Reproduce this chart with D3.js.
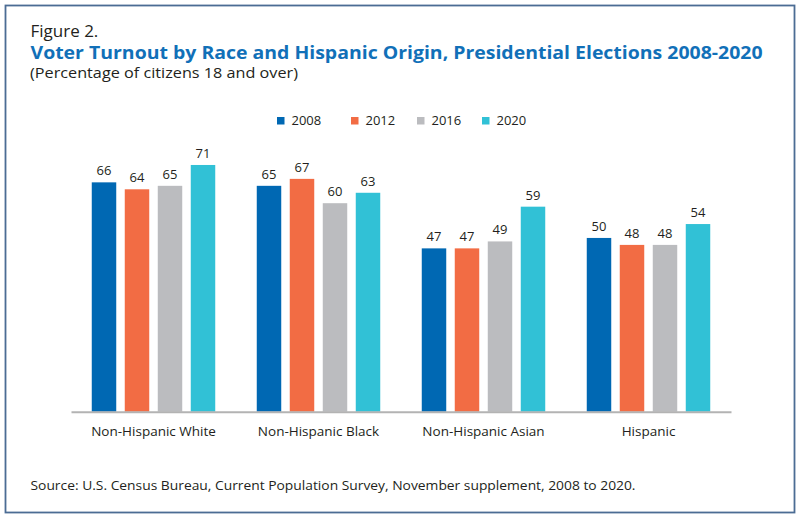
<!DOCTYPE html>
<html>
<head>
<meta charset="utf-8">
<script src="https://cdn.jsdelivr.net/npm/d3@7"></script>
<style>
  html, body { margin: 0; padding: 0; background: #fff; }
  svg { display: block; }
  text { font-family: "Open Sans", "Noto Sans", sans-serif; }
</style>
</head>
<body>
<svg id="chart" width="800" height="518"></svg>
<script>
// ---- Data ----
const categories = ["Non-Hispanic White", "Non-Hispanic Black", "Non-Hispanic Asian", "Hispanic"];
const years = ["2008", "2012", "2016", "2020"];
const values2008 = [66, 65, 47, 50];
const values2012 = [64, 67, 47, 48];
const values2016 = [65, 60, 49, 48];
const values2020 = [71, 63, 59, 54];
const seriesValues = [values2008, values2012, values2016, values2020];
const colors = ["#0068b3", "#f26c44", "#bbbcbf", "#31c1d6"];

const figureLabel = "Figure 2.";
const titleText = "Voter Turnout by Race and Hispanic Origin, Presidential Elections 2008-2020";
const subtitleText = "(Percentage of citizens 18 and over)";
const sourceText = "Source: U.S. Census Bureau, Current Population Survey, November supplement, 2008 to 2020.";

// ---- Layout ----
const W = 800, H = 518;
const plot = { left: 71, right: 731, baseline: 411.7, top: 133.7 };
const legendX = [277, 351, 417, 482];

const svg = d3.select("#chart");

// frame
svg.append("rect")
  .attr("x", 5.5).attr("y", 5.5)
  .attr("width", 789).attr("height", 507)
  .attr("fill", "#fff")
  .attr("stroke", "#4b6c94").attr("stroke-width", 1.8);

function fit(sel, w) {
  const n = sel.node();
  const cur = n.getComputedTextLength();
  if (Math.abs(cur - w) / w > 0.01) {
    sel.attr("textLength", w).attr("lengthAdjust", "spacingAndGlyphs");
  }
  return sel;
}

// titles
svg.append("text").attr("x", 30.5).attr("y", 37)
  .attr("font-size", 17).attr("fill", "#231f20").text(figureLabel);
fit(svg.append("text").attr("x", 30.5).attr("y", 59.3)
  .attr("font-size", 17).attr("font-weight", "bold").attr("fill", "#1170b8")
  .text(titleText), 732);
fit(svg.append("text").attr("x", 30).attr("y", 78)
  .attr("font-size", 14.5).attr("fill", "#231f20").text(subtitleText), 268);

// legend
const legend = svg.append("g");
years.forEach((yr, i) => {
  const g = legend.append("g").attr("transform", `translate(${legendX[i]},0)`);
  g.append("rect").attr("x", 0).attr("y", 117).attr("width", 7.5).attr("height", 7.5)
    .attr("fill", colors[i]);
  g.append("text").attr("x", 14.5).attr("y", 125).attr("font-size", 13)
    .attr("fill", "#231f20").text(yr);
});

// scales
const x0 = d3.scaleBand().domain(categories).range([plot.left, plot.right]).padding(0);
const x1 = d3.scaleBand().domain(years).range([0, x0.bandwidth()])
  .paddingInner(0.258).paddingOuter(0.629);
const y = d3.scaleLinear().domain([0, 80]).range([plot.baseline, plot.top]);

// bars
const groups = svg.append("g").selectAll("g")
  .data(categories)
  .join("g")
  .attr("transform", d => `translate(${x0(d)},0)`);

groups.selectAll("rect")
  .data((c, ci) => years.map((yr, si) => ({ yr, si, v: seriesValues[si][ci] })))
  .join("rect")
  .attr("x", d => x1(d.yr))
  .attr("y", d => y(d.v))
  .attr("width", x1.bandwidth())
  .attr("height", d => y(0) - y(d.v))
  .attr("fill", d => colors[d.si]);

groups.selectAll("text.val")
  .data((c, ci) => years.map((yr, si) => ({ yr, si, v: seriesValues[si][ci] })))
  .join("text")
  .attr("class", "val")
  .attr("x", d => x1(d.yr) + x1.bandwidth() / 2)
  .attr("y", d => y(d.v) - 7)
  .attr("text-anchor", "middle")
  .attr("font-size", 13)
  .attr("fill", "#231f20")
  .text(d => d.v);

// axis
const xAxis = d3.axisBottom(x0).tickSize(0).tickSizeOuter(0).tickPadding(15);
const ax = svg.append("g").attr("transform", `translate(0,${plot.baseline})`).call(xAxis);
ax.select(".domain").attr("stroke", "#b3b3b3").attr("stroke-width", 2);
ax.selectAll(".tick text")
  .attr("font-family", "\"Open Sans\", \"Noto Sans\", sans-serif")
  .attr("font-size", 13.5)
  .attr("fill", "#231f20")
  .attr("dy", 0)
  .attr("y", 24.3);

// source
fit(svg.append("text").attr("x", 30.5).attr("y", 490)
  .attr("font-size", 13).attr("fill", "#231f20").text(sourceText), 605);
</script>
</body>
</html>
